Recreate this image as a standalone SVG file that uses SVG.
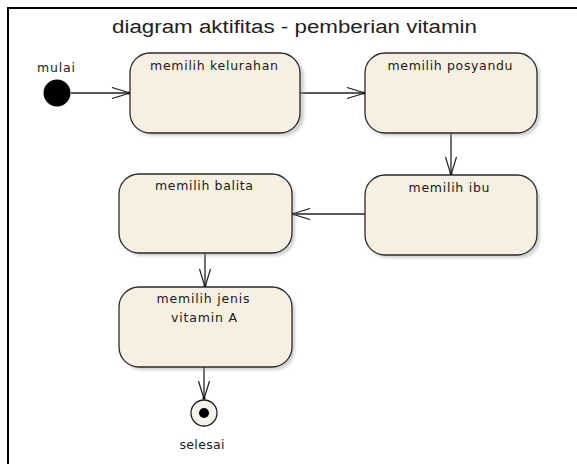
<svg xmlns="http://www.w3.org/2000/svg" width="577" height="464" viewBox="0 0 577 464">
  <style>
    .frame { fill: none; stroke: #000; stroke-width: 2; }
    .title { font-family: "Liberation Sans", Arial, sans-serif; font-size: 18px; fill: #222; }
    .act { fill: #f7efe2; stroke: #2a2a2a; stroke-width: 1.3; }
    .shadow { fill: #9a9a9a; opacity: 0.45; filter: url(#soft); }
    .lbl { font-family: "DejaVu Sans", Verdana, sans-serif; font-size: 12.5px; fill: #1a1a1a; text-anchor: middle; }
    .edge { fill: none; stroke: #222; stroke-width: 1.3; }
  </style>
  <defs>
    <filter id="soft" x="-10%" y="-10%" width="130%" height="130%">
      <feGaussianBlur stdDeviation="1.5"/>
    </filter>
    <marker id="open" viewBox="0 0 20 12" refX="19" refY="6" markerWidth="20" markerHeight="12" markerUnits="userSpaceOnUse" orient="auto">
      <path d="M1,0.5 L19,6 L1,11.5" fill="none" stroke="#222" stroke-width="1.2"/>
      <circle cx="18" cy="6" r="1.6" fill="#111"/>
    </marker>
  </defs>

  <rect width="577" height="464" fill="#fff"/>
  <!-- diagram frame: left and top edges -->
  <path class="frame" d="M8,470 L8,8 L580,8"/>
  <text class="title" x="112" y="33" textLength="365" lengthAdjust="spacingAndGlyphs">diagram aktifitas - pemberian vitamin</text>

  <!-- connectors -->
  <g id="connectors">
    <line class="edge" x1="71" y1="93" x2="130" y2="93" marker-end="url(#open)"/>
    <line class="edge" x1="300" y1="93" x2="365" y2="93" marker-end="url(#open)"/>
    <line class="edge" x1="451" y1="133" x2="451" y2="175" marker-end="url(#open)"/>
    <line class="edge" x1="365" y1="214" x2="292" y2="214" marker-end="url(#open)"/>
    <line class="edge" x1="205" y1="253" x2="205" y2="287" marker-end="url(#open)"/>
    <line class="edge" x1="204" y1="367" x2="204" y2="399" marker-end="url(#open)"/>
  </g>

  <!-- initial node -->
  <g id="mulai">
    <circle cx="57" cy="93" r="13.5" fill="#000"/>
    <text class="lbl" x="56" y="72" textLength="38" lengthAdjust="spacing">mulai</text>
  </g>

  <g id="memilih-kelurahan">
    <rect class="shadow" x="133" y="56" width="171" height="80" rx="20"/>
    <rect class="act" x="130" y="53" width="170" height="80" rx="20"/>
    <text class="lbl" x="214" y="70" textLength="128" lengthAdjust="spacing">memilih kelurahan</text>
  </g>

  <g id="memilih-posyandu">
    <rect class="shadow" x="368" y="56" width="172" height="80" rx="20"/>
    <rect class="act" x="365" y="53" width="172" height="80" rx="20"/>
    <text class="lbl" x="450" y="70" textLength="125" lengthAdjust="spacing">memilih posyandu</text>
  </g>

  <g id="memilih-ibu">
    <rect class="shadow" x="368" y="178" width="172" height="80" rx="20"/>
    <rect class="act" x="365" y="175" width="172" height="80" rx="20"/>
    <text class="lbl" x="449" y="192" textLength="81" lengthAdjust="spacing">memilih ibu</text>
  </g>

  <g id="memilih-balita">
    <rect class="shadow" x="122" y="177" width="173" height="79" rx="20"/>
    <rect class="act" x="119" y="174" width="173" height="79" rx="20"/>
    <text class="lbl" x="204" y="190" textLength="98" lengthAdjust="spacing">memilih balita</text>
  </g>

  <g id="memilih-jenis-vitamin-a">
    <rect class="shadow" x="122" y="290" width="173" height="80" rx="20"/>
    <rect class="act" x="119" y="287" width="173" height="80" rx="20"/>
    <text class="lbl" x="203" y="303" textLength="93" lengthAdjust="spacing">memilih jenis</text>
    <text class="lbl" x="204" y="322" textLength="66" lengthAdjust="spacing">vitamin A</text>
  </g>

  <!-- final node -->
  <g id="selesai">
    <circle cx="204" cy="413" r="13" fill="#f6f2ea" stroke="#222" stroke-width="1.3"/>
    <circle cx="204" cy="413" r="5" fill="#000"/>
    <text class="lbl" x="202" y="449" textLength="45" lengthAdjust="spacing">selesai</text>
  </g>
</svg>
